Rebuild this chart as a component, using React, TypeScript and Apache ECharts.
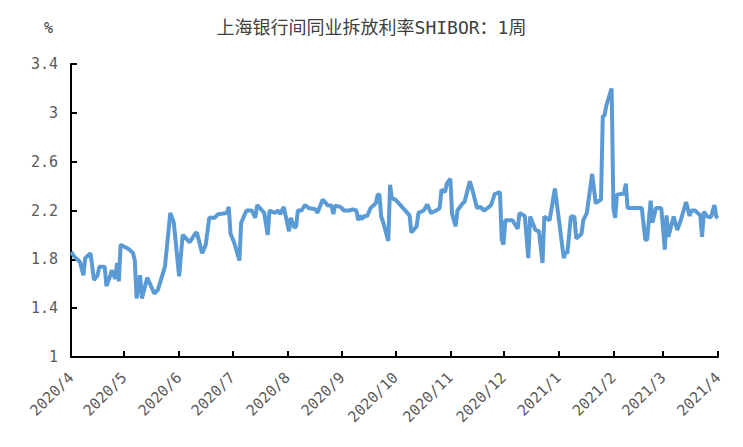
import React, { useEffect, useRef } from 'react';
import * as echarts from 'echarts';

const titleText = '上海银行间同业拆放利率SHIBOR：1周';
const unitText = '%';

const dates = [
  '2020-04-01','2020-04-03','2020-04-06','2020-04-08','2020-04-09','2020-04-12','2020-04-14','2020-04-16','2020-04-17','2020-04-20',
  '2020-04-21','2020-04-23','2020-04-24','2020-04-26','2020-04-27','2020-04-28','2020-04-29','2020-05-04','2020-05-06','2020-05-07',
  '2020-05-08','2020-05-10','2020-05-11','2020-05-14','2020-05-18','2020-05-20','2020-05-24','2020-05-27','2020-05-29','2020-06-01',
  '2020-06-03','2020-06-07','2020-06-10','2020-06-11','2020-06-14','2020-06-16','2020-06-18','2020-06-21','2020-06-23','2020-06-28',
  '2020-06-29','2020-06-30','2020-07-02','2020-07-05','2020-07-06','2020-07-09','2020-07-12','2020-07-14','2020-07-15','2020-07-19',
  '2020-07-21','2020-07-22','2020-07-25','2020-07-27','2020-07-28','2020-07-30','2020-08-02','2020-08-03','2020-08-05','2020-08-06',
  '2020-08-07','2020-08-09','2020-08-11','2020-08-13','2020-08-17','2020-08-18','2020-08-21','2020-08-24','2020-08-26','2020-08-27',
  '2020-08-28','2020-08-31','2020-09-02','2020-09-05','2020-09-07','2020-09-09','2020-09-10','2020-09-11','2020-09-12','2020-09-14',
  '2020-09-15','2020-09-17','2020-09-20','2020-09-21','2020-09-22','2020-09-23','2020-09-24','2020-09-27','2020-09-28','2020-09-29',
  '2020-10-01','2020-10-09','2020-10-10','2020-10-13','2020-10-14','2020-10-17','2020-10-19','2020-10-21','2020-10-24','2020-10-26',
  '2020-10-27','2020-10-29','2020-10-30','2020-11-01','2020-11-02','2020-11-04','2020-11-05','2020-11-08','2020-11-09','2020-11-12',
  '2020-11-14','2020-11-16','2020-11-18','2020-11-20','2020-11-22','2020-11-24','2020-11-26','2020-11-29','2020-11-30','2020-12-01',
  '2020-12-02','2020-12-06','2020-12-09','2020-12-10','2020-12-13','2020-12-15','2020-12-16','2020-12-19','2020-12-21','2020-12-23',
  '2020-12-24','2020-12-27','2020-12-30','2021-01-04','2021-01-05','2021-01-06','2021-01-08','2021-01-10','2021-01-11','2021-01-14',
  '2021-01-15','2021-01-17','2021-01-20','2021-01-22','2021-01-25','2021-01-26','2021-01-27','2021-01-28','2021-01-31','2021-02-01',
  '2021-02-02','2021-02-03','2021-02-07','2021-02-08','2021-02-09','2021-02-17','2021-02-19','2021-02-20','2021-02-22','2021-02-23',
  '2021-02-25','2021-02-28','2021-03-02','2021-03-03','2021-03-04','2021-03-07','2021-03-09','2021-03-11','2021-03-14','2021-03-16',
  '2021-03-17','2021-03-19','2021-03-22','2021-03-23','2021-03-24','2021-03-26','2021-03-28','2021-03-30','2021-03-31','2021-04-01',
];

const values = [
  1.86, 1.82, 1.78, 1.67, 1.81, 1.85, 1.63, 1.67, 1.74, 1.74,
  1.58, 1.66, 1.71, 1.64, 1.77, 1.62, 1.92, 1.88, 1.85, 1.79,
  1.48, 1.67, 1.48, 1.65, 1.52, 1.55, 1.74, 2.18, 2.10, 1.66,
  2.00, 1.94, 2.01, 2.02, 1.85, 1.92, 2.14, 2.14, 2.17, 2.18,
  2.23, 2.01, 1.94, 1.79, 2.10, 2.20, 2.20, 2.14, 2.245, 2.18,
  2.00, 2.20, 2.18, 2.20, 2.17, 2.23, 2.03, 2.14, 2.06, 2.07,
  2.20, 2.20, 2.245, 2.22, 2.21, 2.18, 2.29, 2.24, 2.24, 2.17,
  2.24, 2.23, 2.20, 2.20, 2.21, 2.20, 2.12, 2.16, 2.13, 2.16,
  2.15, 2.22, 2.26, 2.33, 2.33, 2.15, 2.11, 1.95, 2.41, 2.30,
  2.29, 2.16, 2.02, 2.07, 2.18, 2.20, 2.25, 2.18, 2.20, 2.22,
  2.37, 2.35, 2.42, 2.46, 2.17, 2.07, 2.20, 2.26, 2.27, 2.44,
  2.34, 2.22, 2.23, 2.20, 2.22, 2.245, 2.335, 2.35, 1.96, 1.92,
  2.12, 2.12, 2.05, 2.18, 2.155, 1.81, 2.15, 2.04, 2.03, 1.77,
  2.15, 2.12, 2.38, 1.81, 1.86, 1.85, 2.15, 2.15, 1.97, 2.01,
  2.12, 2.18, 2.50, 2.26, 2.29, 2.97, 2.98, 3.06, 3.20, 2.22,
  2.14, 2.33, 2.34, 2.42, 2.22, 2.22, 1.96, 1.96, 2.28, 2.10,
  2.22, 2.22, 1.88, 2.16, 1.985, 2.15, 2.04, 2.12, 2.27, 2.155,
  2.20, 2.20, 2.16, 1.985, 2.19, 2.15, 2.145, 2.245, 2.15, 2.14,
];

const xMin = '2020-04-01';
const xMax = '2021-04-01';
const yMin = 1;
const yMax = 3.4;
const yStep = 0.4;

const DAY = 24 * 3600 * 1000;
const MONO = "'DejaVu Sans Mono', 'Noto Sans CJK SC', monospace";

export default function App() {
  const ref = useRef<HTMLDivElement>(null);

  useEffect(() => {
    document.body.style.margin = '0';
    if (!ref.current) return;
    const chart = echarts.init(ref.current, null, { renderer: 'svg' });
    const seriesData = dates.map((d, i) => [d, values[i]]);
    chart.setOption({
      animation: false,
      backgroundColor: '#ffffff',
      title: {
        text: titleText,
        left: 'center',
        top: 13,
        textStyle: {
          fontFamily: MONO,
          fontSize: 18,
          fontWeight: 'normal',
          color: '#404040',
        },
      },
      graphic: [
        {
          type: 'text',
          left: 44,
          top: 20,
          style: {
            text: unitText,
            fontFamily: MONO,
            fontSize: 15,
            fill: '#404040',
          },
        },
      ],
      grid: { left: 71, right: 25, top: 64, bottom: 90, containLabel: false },
      xAxis: {
        type: 'time',
        min: xMin,
        max: xMax,
        splitNumber: 12,
        minInterval: 28 * DAY,
        maxInterval: 31 * DAY,
        axisLine: { show: true, lineStyle: { color: '#000000', width: 2 } },
        axisTick: { show: true, inside: true, length: 6, lineStyle: { color: '#000000', width: 2 } },
        splitLine: { show: false },
        axisLabel: {
          formatter: '{yyyy}/{M}',
          rotate: 45,
          margin: 18,
          fontFamily: MONO,
          fontSize: 15,
          color: '#595959',
          showMinLabel: true,
          showMaxLabel: true,
        },
      },
      yAxis: {
        type: 'value',
        min: yMin,
        max: yMax,
        interval: yStep,
        axisLine: { show: true, lineStyle: { color: '#000000', width: 2 } },
        axisTick: { show: true, inside: true, length: 6, lineStyle: { color: '#000000', width: 2 } },
        splitLine: { show: false },
        axisLabel: {
          margin: 13,
          fontFamily: MONO,
          fontSize: 15,
          color: '#595959',
        },
      },
      series: [
        {
          type: 'line',
          data: seriesData,
          symbol: 'none',
          smooth: false,
          lineStyle: { color: '#5B9BD5', width: 4 },
        },
      ],
    });
    return () => chart.dispose();
  }, []);

  return <div ref={ref} style={{ width: 743, height: 447 }} />;
}
